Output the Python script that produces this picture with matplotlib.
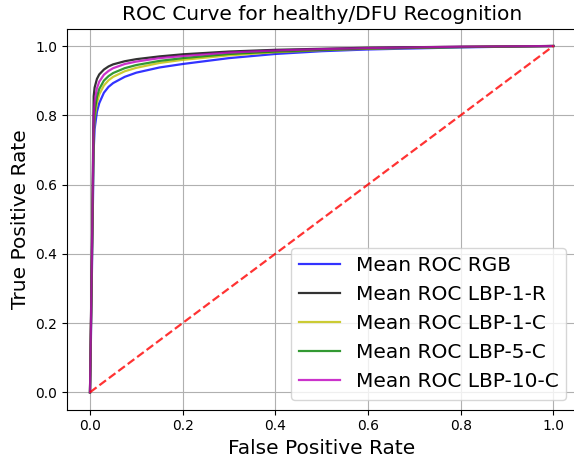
import matplotlib
matplotlib.use("Agg")
import matplotlib.pyplot as plt

# false positive rate grid shared by all curves
fpr = [0, 0.002, 0.005, 0.008, 0.01, 0.015, 0.02, 0.03, 0.04, 0.05, 0.075,
       0.1, 0.15, 0.2, 0.3, 0.4, 0.5, 0.6, 0.8, 1.0]

tpr_rgb = [0, 0.15, 0.42, 0.70, 0.76, 0.81, 0.835, 0.865, 0.882, 0.893,
           0.911, 0.923, 0.938, 0.948, 0.965, 0.977, 0.985, 0.99, 0.996, 1.0]
tpr_lbp1r = [0, 0.2, 0.5, 0.855, 0.88, 0.905, 0.918, 0.932, 0.941, 0.947,
             0.956, 0.962, 0.970, 0.976, 0.984, 0.989, 0.992, 0.995, 0.998, 1.0]
tpr_lbp1c = [0, 0.17, 0.45, 0.74, 0.79, 0.835, 0.86, 0.886, 0.901, 0.911,
             0.927, 0.937, 0.951, 0.960, 0.973, 0.982, 0.988, 0.992, 0.997, 1.0]
tpr_lbp5c = [0, 0.18, 0.46, 0.76, 0.81, 0.853, 0.876, 0.9, 0.913, 0.922,
             0.936, 0.945, 0.957, 0.965, 0.977, 0.984, 0.989, 0.993, 0.997, 1.0]
tpr_lbp10c = [0, 0.19, 0.48, 0.80, 0.84, 0.878, 0.897, 0.917, 0.928, 0.936,
              0.948, 0.955, 0.965, 0.971, 0.981, 0.987, 0.991, 0.994, 0.998, 1.0]

labels = ["Mean ROC RGB", "Mean ROC LBP-1-R", "Mean ROC LBP-1-C",
          "Mean ROC LBP-5-C", "Mean ROC LBP-10-C"]
colors = ["b", "k", "y", "g", "m"]

fig = plt.figure(figsize=(5.74, 4.62), dpi=100)
ax = fig.add_axes([0.1164, 0.1134, 0.888, 0.8245])

curves = [tpr_rgb, tpr_lbp1r, tpr_lbp1c, tpr_lbp5c, tpr_lbp10c]
for tpr, c, lab in zip(curves, colors, labels):
    ax.plot(fpr, tpr, color=c, lw=1.6, alpha=0.8, label=lab)

ax.plot([0, 1], [0, 1], "r--", lw=1.6, alpha=0.8)

ax.set_xlim(-0.05, 1.05)
ax.set_ylim(-0.05, 1.05)
ax.grid(True)
ax.set_xlabel("False Positive Rate", fontsize=14.5)
ax.set_ylabel("True Positive Rate", fontsize=14.5)
ax.set_title("ROC Curve for healthy/DFU Recognition", fontsize=14.5)
ax.legend(loc="lower right", fontsize=14.5)

fig.savefig("out.png", dpi=100)
